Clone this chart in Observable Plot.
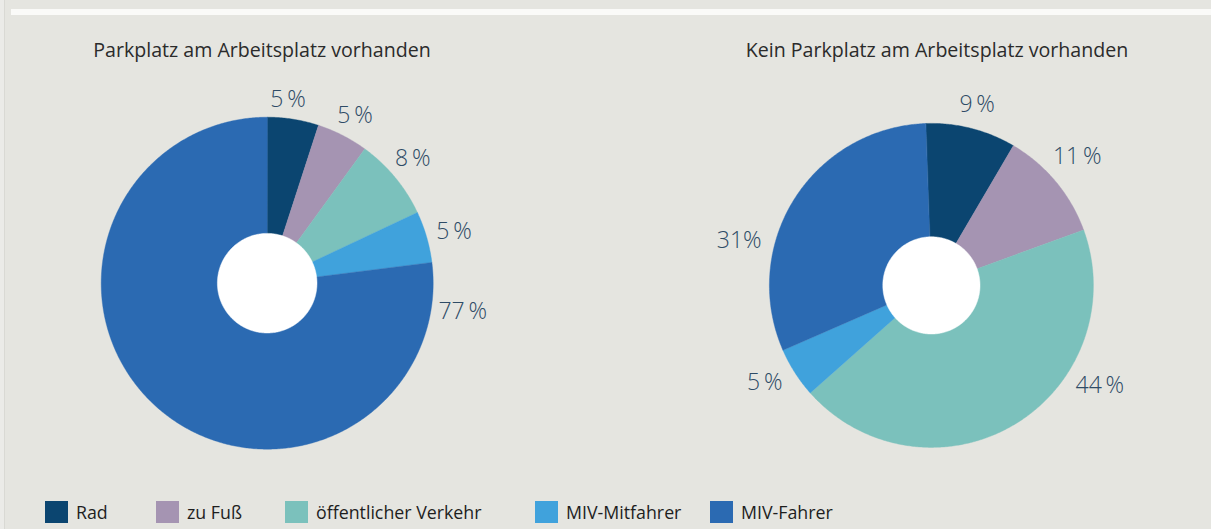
<!DOCTYPE html>
<html>
<head>
<meta charset="utf-8">
<script src="https://cdn.jsdelivr.net/npm/d3@7"></script>
<script src="https://cdn.jsdelivr.net/npm/@observablehq/plot@0.6"></script>
<style>
  html, body { margin: 0; padding: 0; }
  body { width: 1211px; height: 529px; background: #e5e5e0; position: relative; overflow: hidden; font-family: "Open Sans", sans-serif; }
  #edge { position: absolute; left: 0; top: 0; width: 4px; height: 529px; background: #ebebe8; border-right: 1px solid #d9d9d4; }
  #stripe { position: absolute; left: 11px; top: 9px; width: 1200px; height: 6px; background: #fafaf8; }
  .title { position: absolute; top: 36px; font-size: 19.6px; color: #2b2b2b; white-space: nowrap; transform: translateX(-50%); }
  .pie { position: absolute; }
  .lg { position: absolute; top: 500px; height: 23px; display: flex; align-items: center; font-size: 17.8px; color: #1e1e1e; white-space: nowrap; }
  .lg span.sw { display: inline-block; width: 23px; height: 22px; margin-right: 8px; }
</style>
</head>
<body>
<div id="edge"></div>
<div id="stripe"></div>
<div id="root"></div>
<script>
// ---- data ----
const categories = ["Rad", "zu Fuß", "öffentlicher Verkehr", "MIV-Mitfahrer", "MIV-Fahrer"];
const colors = ["#0b4570", "#a594b2", "#7bc1bc", "#40a2dc", "#2b6ab2"];
const titleWith = "Parkplatz am Arbeitsplatz vorhanden";
const titleWithout = "Kein Parkplatz am Arbeitsplatz vorhanden";
const valuesWith = [5, 5, 8, 5, 77];
const valuesWithout = [9, 11, 44, 5, 31];
const labelsWith = ["5\u2009%", "5\u2009%", "8\u2009%", "5\u2009%", "77\u2009%"];
const labelsWithout = ["9\u2009%", "11\u2009%", "44\u2009%", "5\u2009%", "31%"];

// ---- layout (not data) ----
const EXT = 1.45;          // half-extent of each pie plot in radius units
const HOLE = 0.30;         // inner white disc, fraction of radius
const pieLayouts = [
  {values: valuesWith, labels: labelsWith, title: titleWith, cx: 267, cy: 283, R: 166, start: 0, gap: 18,
   labelFrac: [0.36, 0.54, 0.465, 0.54, 0.056], titleX: 262},
  {values: valuesWithout, labels: labelsWithout, title: titleWithout, cx: 931, cy: 285, R: 162, start: -2, gap: 22,
   labelFrac: [0.5, 0.46, 0.32, 0.63, 0.33], titleX: 937}
];
const legendX = [45, 156, 285, 535, 710];

const root = document.getElementById("root");

function circlePts(r, id) {
  const pts = [];
  for (let i = 0; i < 360; i++) {
    const a = i * Math.PI / 180;
    pts.push({id, x: r * Math.sin(a), y: r * Math.cos(a)});
  }
  return pts;
}

for (const L of pieLayouts) {
  const arcs = d3.pie().sort(null)
    .startAngle(L.start * Math.PI / 180)
    .endAngle(L.start * Math.PI / 180 + 2 * Math.PI)(L.values);
  const slicePts = [];
  const labelPts = [];
  arcs.forEach((a, i) => {
    const cat = categories[i];
    slicePts.push({cat, x: 0, y: 0});
    const n = Math.max(2, Math.ceil((a.endAngle - a.startAngle) / (Math.PI / 360)));
    for (let k = 0; k <= n; k++) {
      const t = a.startAngle + (a.endAngle - a.startAngle) * k / n;
      slicePts.push({cat, x: Math.sin(t), y: Math.cos(t)});
    }
    const la = a.startAngle + (a.endAngle - a.startAngle) * L.labelFrac[i];
    const txt = L.labels[i];
    const digits = txt.replace(/[^0-9]/g, "").length;
    const w = 12 * digits + 22;   // approx. label width in px
    const lr = 1 + (L.gap + 0.3 * w * Math.abs(Math.sin(la))) / L.R;
    labelPts.push({x: lr * Math.sin(la), y: lr * Math.cos(la), text: txt});
  });
  const size = 2 * EXT * L.R;
  const chart = Plot.plot({
    width: size, height: size,
    margin: 0,
    style: {background: "transparent", overflow: "visible"},
    x: {domain: [-EXT, EXT], axis: null},
    y: {domain: [-EXT, EXT], axis: null},
    color: {domain: categories, range: colors},
    marks: [
      Plot.line(slicePts, {x: "x", y: "y", z: "cat", fill: "cat", stroke: "cat", strokeWidth: 0.4, curve: "linear-closed"}),
      Plot.line(circlePts(HOLE, "hole"), {x: "x", y: "y", z: "id", fill: "white", stroke: "white", strokeWidth: 0.5, curve: "linear-closed"}),
      Plot.text(labelPts, {x: "x", y: "y", text: "text", fill: "#2e4b66", fontSize: 23, fontWeight: 300, fontFamily: "Open Sans", textAnchor: "middle", lineAnchor: "middle"})
    ]
  });
  chart.classList.add("pie");
  chart.style.left = (L.cx - size / 2) + "px";
  chart.style.top = (L.cy - size / 2) + "px";
  root.appendChild(chart);

  const t = document.createElement("div");
  t.className = "title";
  t.style.left = L.titleX + "px";
  t.textContent = L.title;
  root.appendChild(t);
}

categories.forEach((c, i) => {
  const d = document.createElement("div");
  d.className = "lg";
  d.style.left = legendX[i] + "px";
  const sw = document.createElement("span");
  sw.className = "sw";
  sw.style.background = colors[i];
  d.appendChild(sw);
  d.appendChild(document.createTextNode(c));
  root.appendChild(d);
});
</script>
</body>
</html>
